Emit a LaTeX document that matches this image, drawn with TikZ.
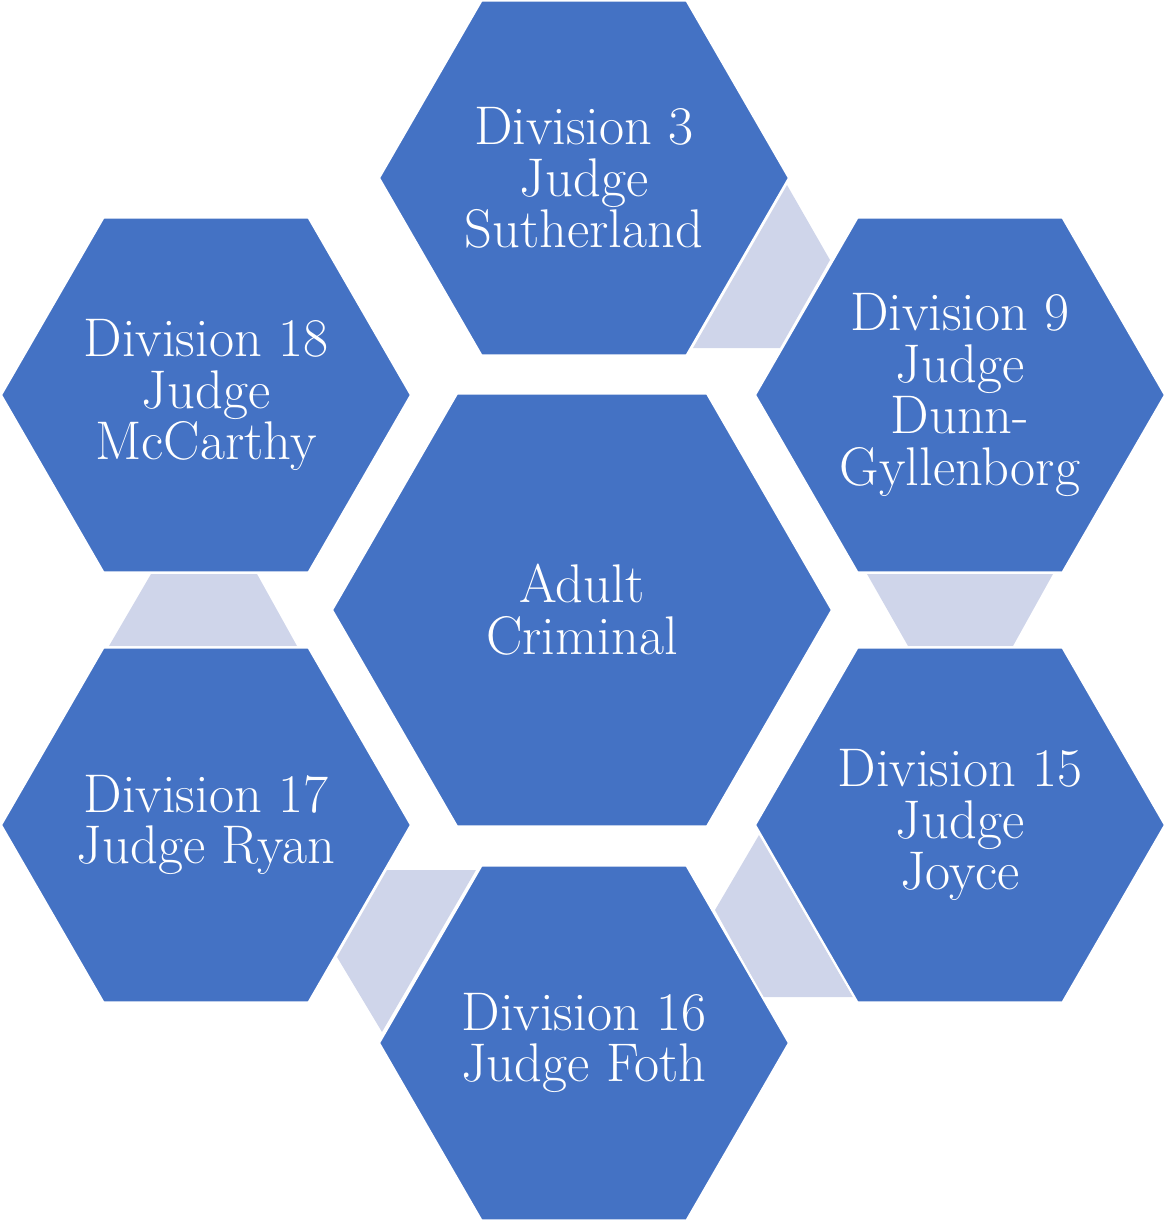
\documentclass[tikz,border=0pt]{standalone}
\usetikzlibrary{shapes.geometric}

\definecolor{hexblue}{RGB}{68,114,196}
\definecolor{linklilac}{RGB}{207,213,234}

\tikzset{
  hexbox/.style={regular polygon, regular polygon sides=6, minimum size=8.2cm,
    fill=hexblue, draw=white, line width=1.2pt, inner sep=-1cm, outer sep=0pt,
    text=white, align=center, font=\fontsize{31pt}{29.5pt}\selectfont},
  bighex/.style={hexbox, minimum size=10cm},
  linkpiece/.style={fill=linklilac}
}

\begin{document}
\begin{tikzpicture}[x=0.02cm, y=-0.02cm]
\useasboundingbox (0, 0) rectangle (1164, 1220);

\fill [linkpiece] (787, 185) -- (830, 260) -- (780, 348) -- (693, 348) -- cycle;
\fill [linkpiece] (867, 574) -- (1053, 574) -- (1013, 646) -- (908, 646) -- cycle;
\fill [linkpiece] (759, 835) -- (853, 997) -- (763, 997) -- (715, 910) -- cycle;
\fill [linkpiece] (387, 870) -- (476, 870) -- (382, 1032) -- (337, 957) -- cycle;
\fill [linkpiece] (151, 574) -- (257, 574) -- (297, 646) -- (109, 646) -- cycle;

\node (adult) at (582, 610) [bighex] {Adult\\Criminal};
\node (div3) at (584, 178) [hexbox] {Division 3\\Judge\\Sutherland};
\node (div9) at (960, 395) [hexbox] {Division 9\\Judge\\Dunn-\\Gyllenborg};
\node (div15) at (960, 825) [hexbox] {Division 15\\Judge\\Joyce};
\node (div16) at (584, 1043) [hexbox] {Division 16\\Judge Foth};
\node (div17) at (206, 825) [hexbox] {Division 17\\Judge Ryan};
\node (div18) at (206, 395) [hexbox] {Division 18\\Judge\\McCarthy};
\end{tikzpicture}
\end{document}
